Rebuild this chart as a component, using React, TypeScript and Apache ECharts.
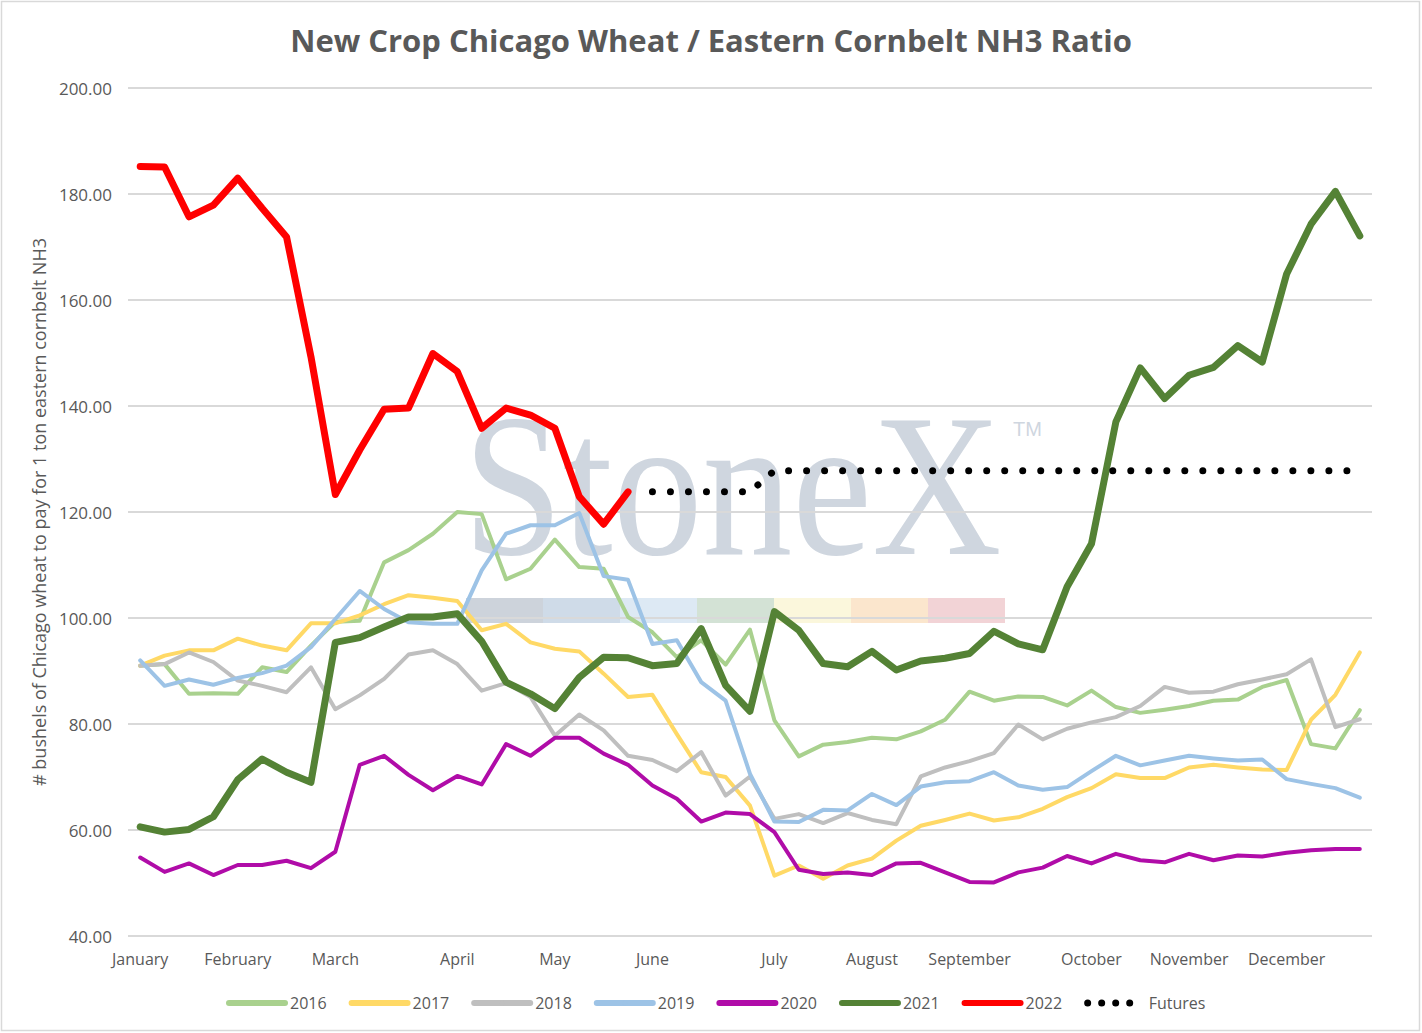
import React, { useEffect, useRef } from "react";
import * as echarts from "echarts";

const monthNames = ["January", "February", "March", "April", "May", "June", "July", "August", "September", "October", "November", "December"];
const monthStartWeek = [0, 4, 8, 13, 17, 21, 26, 30, 34, 39, 43, 47];
const weeks = Array.from({ length: 51 }, (_, i) => `W${i + 1}`);

const s2016 = [91.0, 91.3, 85.7, 85.8, 85.7, 90.7, 89.8, 94.8, 99.3, 99.5, 110.5, 112.8, 115.9, 120.0, 119.6, 107.3, 109.3, 114.8, 109.6, 109.3, 100.2, 97.3, 92.6, 95.8, 91.2, 97.8, 80.7, 73.9, 76.1, 76.6, 77.4, 77.1, 78.6, 80.8, 86.1, 84.4, 85.2, 85.1, 83.5, 86.3, 83.2, 82.1, 82.7, 83.4, 84.4, 84.6, 87.0, 88.3, 76.2, 75.4, 82.6];
const s2017 = [91.0, 92.9, 93.9, 93.9, 96.1, 94.8, 93.9, 99.0, 99.0, 100.5, 102.6, 104.3, 103.8, 103.2, 97.7, 98.9, 95.4, 94.2, 93.7, 89.5, 85.1, 85.5, 78.1, 70.9, 70.0, 64.6, 51.4, 53.3, 50.8, 53.3, 54.6, 58.0, 60.8, 61.9, 63.1, 61.8, 62.4, 64.0, 66.2, 67.9, 70.5, 69.8, 69.8, 71.8, 72.3, 71.8, 71.4, 71.3, 80.8, 85.5, 93.5];
const s2018 = [91.0, 91.3, 93.5, 91.7, 88.2, 87.2, 86.0, 90.7, 82.8, 85.4, 88.5, 93.1, 93.9, 91.3, 86.3, 87.7, 85.1, 77.8, 81.8, 78.8, 74.0, 73.2, 71.1, 74.7, 66.5, 70.1, 62.1, 63.0, 61.3, 63.2, 61.9, 61.1, 70.1, 71.8, 73.0, 74.5, 79.9, 77.1, 79.1, 80.3, 81.3, 83.4, 87.0, 85.9, 86.1, 87.5, 88.4, 89.4, 92.2, 79.4, 80.9];
const s2019 = [92.0, 87.2, 88.4, 87.4, 88.7, 89.6, 91.0, 94.5, 99.8, 105.1, 101.7, 99.2, 98.9, 98.9, 109.0, 115.9, 117.5, 117.5, 119.8, 107.9, 107.2, 95.1, 95.8, 87.9, 84.4, 70.6, 61.6, 61.5, 63.8, 63.7, 66.8, 64.7, 68.2, 69.0, 69.2, 70.9, 68.4, 67.6, 68.1, 71.1, 74.0, 72.2, 73.1, 74.0, 73.5, 73.1, 73.3, 69.6, 68.7, 67.9, 66.1];
const s2020 = [54.8, 52.1, 53.7, 51.5, 53.4, 53.4, 54.2, 52.8, 55.9, 72.3, 74.0, 70.4, 67.5, 70.2, 68.6, 76.2, 74.0, 77.4, 77.4, 74.4, 72.3, 68.4, 65.9, 61.6, 63.3, 63.0, 59.6, 52.5, 51.7, 52.0, 51.5, 53.7, 53.8, 52.0, 50.2, 50.1, 52.0, 52.9, 55.1, 53.7, 55.5, 54.3, 53.9, 55.5, 54.3, 55.2, 55.0, 55.7, 56.2, 56.4, 56.4];
const s2021 = [60.6, 59.6, 60.1, 62.5, 69.5, 73.4, 70.9, 69.0, 95.4, 96.3, 98.3, 100.2, 100.2, 100.8, 95.6, 87.9, 85.7, 82.9, 88.8, 92.6, 92.5, 91.0, 91.4, 98.0, 87.3, 82.4, 101.2, 97.7, 91.4, 90.8, 93.7, 90.2, 91.9, 92.4, 93.3, 97.5, 95.1, 94.0, 105.9, 114.0, 137.0, 147.2, 141.4, 145.8, 147.3, 151.4, 148.3, 164.9, 174.3, 180.5, 172.1];
const s2022 = [185.2, 185.1, 175.7, 177.9, 183.0, 177.3, 171.9, 149.3, 123.3, 131.7, 139.4, 139.6, 149.9, 146.5, 135.8, 139.6, 138.3, 135.8, 122.9, 117.7, 123.8];
const futures = [null, null, null, null, null, null, null, null, null, null, null, null, null, null, null, null, null, null, null, null, null, 123.8, 123.8, 123.8, 123.8, 123.8, 127.8, 127.8, 127.8, 127.8, 127.8, 127.8, 127.8, 127.8, 127.8, 127.8, 127.8, 127.8, 127.8, 127.8, 127.8, 127.8, 127.8, 127.8, 127.8, 127.8, 127.8, 127.8, 127.8, 127.8, 127.8];
const yTicks = [40, 60, 80, 100, 120, 140, 160, 180, 200];

const FONT = "'Open Sans', 'Noto Sans', sans-serif";
const TXT = "#595959";

const seriesDefs = [
  { name: "2016", data: s2016, color: "#a9d18e", width: 4 },
  { name: "2017", data: s2017, color: "#ffd966", width: 4 },
  { name: "2018", data: s2018, color: "#bfbfbf", width: 4 },
  { name: "2019", data: s2019, color: "#9dc3e6", width: 4 },
  { name: "2020", data: s2020, color: "#b00ca8", width: 4 },
  { name: "2021", data: s2021, color: "#548235", width: 7 },
  { name: "2022", data: s2022, color: "#ff0000", width: 7 },
];

const bandColors = ["#cdd3db", "#cfdbe8", "#dde9f4", "#d3e2d5", "#fbf7dc", "#fbe6cd", "#f2d3d6"];

export default function App() {
  const ref = useRef<HTMLDivElement>(null);
  useEffect(() => {
    if (!ref.current) return;
    const chart = echarts.init(ref.current, null, { renderer: "svg" });
    const series: any[] = seriesDefs.map((s) => ({
      name: s.name,
      type: "line",
      data: s.data,
      symbol: "none",
      smooth: false,
      connectNulls: false,
      color: s.color,
      lineStyle: { color: s.color, width: s.width, cap: "round", join: "round" },
    }));
    series.push({
      name: "Futures",
      type: "line",
      data: futures,
      symbol: "none",
      color: "#000000",
      lineStyle: { color: "#000000", width: 7, type: [0.01, 18], cap: "round", join: "round" },
    });

    const graphics: any[] = [
      {
        type: "rect",
        z: -10,
        shape: { x: 1.5, y: 1.5, width: 1418, height: 1029 },
        style: { fill: "none", stroke: "#d9d9d9", lineWidth: 1.5 },
        silent: true,
      },
      {
        type: "text",
        z: -10,
        x: 463,
        y: 486,
        scaleX: 0.88,
        silent: true,
        style: {
          x: 0,
          y: 0,
          text: "StoneX",
          font: "204px 'Liberation Serif', 'DejaVu Serif', serif",
          fill: "#cfd6df",
          textAlign: "left",
          textVerticalAlign: "middle",
        },
      },
      {
        type: "text",
        z: -10,
        x: 1013,
        y: 429,
        silent: true,
        style: {
          text: "TM",
          font: "20px 'Liberation Sans', sans-serif",
          fill: "#cfd6df",
          textAlign: "left",
          textVerticalAlign: "middle",
        },
      },
    ];
    bandColors.forEach((c, i) => {
      graphics.push({
        type: "rect",
        z: -10,
        silent: true,
        shape: { x: 466 + i * 77, y: 598, width: 77, height: 25 },
        style: { fill: c },
      });
    });

    chart.setOption({
      animation: false,
      backgroundColor: "#ffffff",
      textStyle: { fontFamily: FONT },
      title: {
        text: "New Crop Chicago Wheat / Eastern Cornbelt NH3 Ratio",
        left: "center",
        top: 19,
        textStyle: { fontFamily: FONT, fontWeight: "bold", fontSize: 31, color: TXT },
      },
      grid: { left: 128, right: 50, top: 88, bottom: 97, containLabel: false },
      xAxis: {
        type: "category",
        data: weeks,
        boundaryGap: true,
        axisLine: { show: false },
        axisTick: { show: false },
        splitLine: { show: false },
        axisLabel: {
          interval: 0,
          margin: 15,
          color: TXT,
          fontSize: 16,
          fontFamily: FONT,
          formatter: (_v: string, i: number) => {
            const k = monthStartWeek.indexOf(i);
            return k >= 0 ? monthNames[k] : "";
          },
        },
      },
      yAxis: {
        type: "value",
        min: yTicks[0],
        max: yTicks[yTicks.length - 1],
        interval: 20,
        name: "# bushels of Chicago wheat to pay for 1 ton eastern cornbelt NH3",
        nameLocation: "middle",
        nameRotate: 90,
        nameGap: 76,
        nameTextStyle: { color: TXT, fontSize: 18, fontFamily: FONT },
        axisLine: { show: false },
        axisTick: { show: false },
        splitLine: { show: true, lineStyle: { color: "#d9d9d9", width: 2 } },
        axisLabel: {
          margin: 16,
          color: TXT,
          fontSize: 17,
          fontFamily: FONT,
          formatter: (v: number) => v.toFixed(2),
        },
      },
      legend: {
        left: 221,
        top: 990,
        itemWidth: 56,
        itemHeight: 6,
        itemGap: 22,
        textStyle: { color: TXT, fontSize: 16, fontFamily: FONT },
        lineStyle: { width: 6, cap: "round" },
        data: [
          ...seriesDefs.map((s) => s.name),
          { name: "Futures", lineStyle: { width: 7, type: [0.01, 14], cap: "round" } },
        ],
      },
      graphic: graphics,
      series,
    });
    return () => chart.dispose();
  }, []);
  return (
    <div
      ref={ref}
      style={{ position: "fixed", left: 0, top: 0, width: 1422, height: 1033, background: "#fff" }}
    />
  );
}
